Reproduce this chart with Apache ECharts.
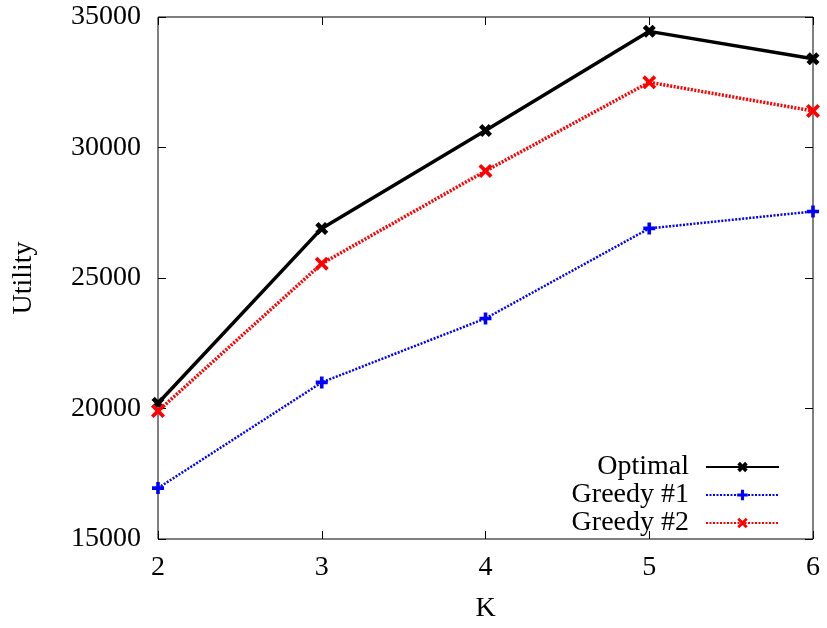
<!DOCTYPE html>
<html>
<head>
<meta charset="UTF-8">
<script src="https://cdn.jsdelivr.net/npm/echarts@6/dist/echarts.min.js"></script>
<style>
  html, body { margin: 0; padding: 0; background: #fff; }
  #chart { width: 827px; height: 628px; }
</style>
</head>
<body>
<div id="chart"></div>
<script>
// data
var kValues = [2, 3, 4, 5, 6];
var optimal = [20200, 26900, 30650, 34450, 33400];
var greedy1 = [16950, 21000, 23450, 26900, 27550];
var greedy2 = [19900, 25550, 29100, 32500, 31400];

var font = 'Liberation Serif';
var plusPath = 'path://M2.8,0H5.2V2.8H8V5.2H5.2V8H2.8V5.2H0V2.8H2.8Z';
var crossPath = 'path://M0,1.5L1.5,0L4,2.5L6.5,0L8,1.5L5.5,4L8,6.5L6.5,8L4,5.5L1.5,8L0,6.5L2.5,4Z';
var boldCross = 'path://M0,2L2,0L4,2L6,0L8,2L6,4L8,6L6,8L4,6L2,8L0,6L2,4Z';

var chart = echarts.init(document.getElementById('chart'));

function pairs(arr) {
    return kValues.map(function (k, i) { return [k, arr[i]]; });
}

chart.setOption({
    animation: false,
    backgroundColor: '#fff',
    grid: { left: 158, right: 14, top: 17, bottom: 87, show: true, borderColor: '#000', borderWidth: 1 },
    legend: {
        orient: 'vertical',
        right: 42,
        top: 448,
        align: 'right',
        itemWidth: 73,
        itemHeight: 13,
        itemGap: 0,
        textStyle: { fontFamily: font, fontSize: 28, color: '#000', padding: [0, 12, 0, 0] },
        data: ['Optimal', 'Greedy #1', 'Greedy #2']
    },
    xAxis: [{
        type: 'value', min: 2, max: 6, interval: 1,
        name: 'K', nameLocation: 'middle', nameGap: 56,
        nameTextStyle: { fontFamily: font, fontSize: 28, color: '#000' },
        axisLine: { show: false },
        axisTick: { inside: true, length: 8, lineStyle: { color: '#000' } },
        axisLabel: { fontFamily: font, fontSize: 28, color: '#000', margin: 15 },
        splitLine: { show: false }
    }, {
        type: 'value', min: 2, max: 6, interval: 1, position: 'top',
        axisLine: { show: false },
        axisTick: { inside: true, length: 8, lineStyle: { color: '#000' } },
        axisLabel: { show: false },
        splitLine: { show: false }
    }],
    yAxis: [{
        type: 'value', min: 15000, max: 35000, interval: 5000,
        name: 'Utility', nameLocation: 'middle', nameGap: 120,
        nameTextStyle: { fontFamily: font, fontSize: 28, color: '#000' },
        axisLine: { show: false },
        axisTick: { inside: true, length: 8, lineStyle: { color: '#000' } },
        axisLabel: { fontFamily: font, fontSize: 28, color: '#000', margin: 17, formatter: function (v) { return String(v); } },
        splitLine: { show: false }
    }, {
        type: 'value', min: 15000, max: 35000, interval: 5000, position: 'right',
        axisLine: { show: false },
        axisTick: { inside: true, length: 8, lineStyle: { color: '#000' } },
        axisLabel: { show: false },
        splitLine: { show: false }
    }],
    series: [{
        name: 'Optimal', type: 'line', data: pairs(optimal),
        symbol: boldCross, symbolSize: 13,
        itemStyle: { color: '#000' },
        lineStyle: { color: '#000', width: 3.5 }
    }, {
        name: 'Greedy #1', type: 'line', data: pairs(greedy1),
        symbol: plusPath, symbolSize: 12,
        itemStyle: { color: '#0000ff' },
        lineStyle: { color: '#0000ff', width: 2.5, type: [2, 1.5] }
    }, {
        name: 'Greedy #2', type: 'line', data: pairs(greedy2),
        symbol: crossPath, symbolSize: 14,
        itemStyle: { color: '#ff0000' },
        lineStyle: { color: '#ff0000', width: 3.5, type: [2, 1.5] }
    }]
});
</script>
</body>
</html>
